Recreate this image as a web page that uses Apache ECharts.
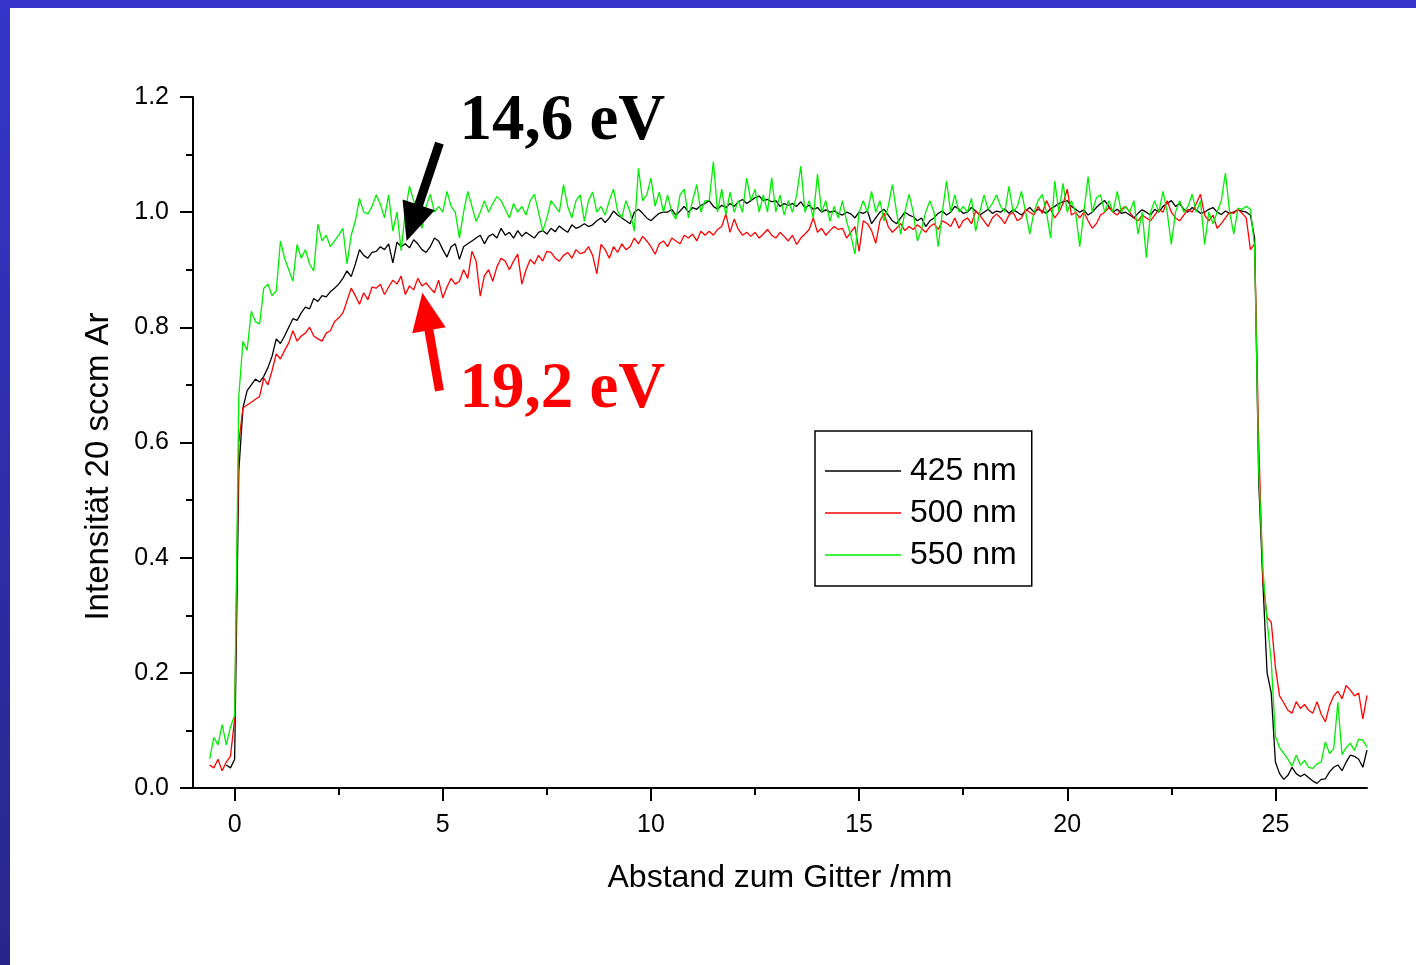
<!DOCTYPE html>
<html><head><meta charset="utf-8">
<script src="https://cdn.jsdelivr.net/npm/echarts@6/dist/echarts.min.js"></script>
<style>
html,body{margin:0;padding:0;width:1416px;height:965px;overflow:hidden;background:linear-gradient(to bottom,#3535cb,#27278a);}
#frame{position:absolute;left:10px;top:8px;width:1406px;height:957px;background:#fff;}
#chart{width:1406px;height:957px;}
</style></head><body><div id="frame"><div id="chart"></div></div>
<script>
// x positions (mm)
const xs=[-0.6,-0.5,-0.4,-0.3,-0.2,-0.1,0,0.1,0.2,0.3,
0.4,0.5,0.6,0.7,0.8,0.9,1,1.1,1.2,1.3,
1.4,1.5,1.6,1.7,1.8,1.9,2,2.1,2.2,2.3,
2.4,2.5,2.6,2.7,2.8,2.9,3,3.1,3.2,3.3,
3.4,3.5,3.6,3.7,3.8,3.9,4,4.1,4.2,4.3,
4.4,4.5,4.6,4.7,4.8,4.9,5,5.1,5.2,5.3,
5.4,5.5,5.6,5.7,5.8,5.9,6,6.1,6.2,6.3,
6.4,6.5,6.6,6.7,6.8,6.9,7,7.1,7.2,7.3,
7.4,7.5,7.6,7.7,7.8,7.9,8,8.1,8.2,8.3,
8.4,8.5,8.6,8.7,8.8,8.9,9,9.1,9.2,9.3,
9.4,9.5,9.6,9.7,9.8,9.9,10,10.1,10.2,10.3,
10.4,10.5,10.6,10.7,10.8,10.9,11,11.1,11.2,11.3,
11.4,11.5,11.6,11.7,11.8,11.9,12,12.1,12.2,12.3,
12.4,12.5,12.6,12.7,12.8,12.9,13,13.1,13.2,13.3,
13.4,13.5,13.6,13.7,13.8,13.9,14,14.1,14.2,14.3,
14.4,14.5,14.6,14.7,14.8,14.9,15,15.1,15.2,15.3,
15.4,15.5,15.6,15.7,15.8,15.9,16,16.1,16.2,16.3,
16.4,16.5,16.6,16.7,16.8,16.9,17,17.1,17.2,17.3,
17.4,17.5,17.6,17.7,17.8,17.9,18,18.1,18.2,18.3,
18.4,18.5,18.6,18.7,18.8,18.9,19,19.1,19.2,19.3,
19.4,19.5,19.6,19.7,19.8,19.9,20,20.1,20.2,20.3,
20.4,20.5,20.6,20.7,20.8,20.9,21,21.1,21.2,21.3,
21.4,21.5,21.6,21.7,21.8,21.9,22,22.1,22.2,22.3,
22.4,22.5,22.6,22.7,22.8,22.9,23,23.1,23.2,23.3,
23.4,23.5,23.6,23.7,23.8,23.9,24,24.1,24.2,24.3,
24.4,24.5,24.6,24.7,24.8,24.9,25,25.1,25.2,25.3,
25.4,25.5,25.6,25.7,25.8,25.9,26,26.1,26.2,26.3,
26.4,26.5,26.6,26.7,26.8,26.9,27,27.1,27.2];

const black425=[null,null,null,null,0.04,0.035,0.05,0.55,0.66,0.69,
0.70,0.71,0.705,0.715,0.73,0.75,0.78,0.772,0.785,0.80,
0.815,0.812,0.825,0.835,0.832,0.85,0.845,0.855,0.853,0.862,
0.868,0.875,0.885,0.898,0.888,0.91,0.935,0.925,0.92,0.93,
0.932,0.94,0.935,0.945,0.912,0.948,0.94,0.945,0.938,0.952,
0.945,0.935,0.93,0.94,0.955,0.95,0.935,0.922,0.94,0.945,
0.918,0.94,0.945,0.95,0.955,0.96,0.945,0.958,0.962,0.955,
0.972,0.96,0.965,0.955,0.968,0.958,0.965,0.96,0.955,0.965,
0.968,0.962,0.972,0.966,0.976,0.97,0.965,0.978,0.972,0.975,
0.98,0.975,0.978,0.985,0.99,0.982,0.99,1.002,0.995,0.99,
0.985,0.98,1.0,1.005,0.998,0.99,0.985,0.992,0.998,1.0,
1.0,1.005,0.995,1.002,1.01,1.0,1.008,1.005,1.012,1.015,
1.02,1.01,1.005,1.012,1.008,1.015,1.01,1.018,1.022,1.015,
1.02,1.025,1.028,1.02,1.022,1.018,1.02,1.01,1.015,1.012,
1.015,1.01,1.018,1.008,1.012,1.005,1.008,1.0,1.004,1.0,
1.002,0.998,0.995,1.0,0.997,0.99,1.0,0.998,1.002,0.98,
0.99,1.0,1.005,0.995,0.985,0.98,0.99,1.0,0.995,0.992,
0.985,0.99,0.975,0.985,0.99,0.998,1.002,0.995,1.0,1.01,
1.005,0.998,1.0,1.008,1.002,0.995,1.0,1.005,0.998,1.002,
1.0,1.006,0.998,1.004,1.0,0.995,1.002,1.008,1.0,1.005,
1.002,0.998,1.006,1.01,1.015,1.018,1.02,1.01,1.005,1.0,
1.004,0.995,1.0,1.008,1.015,1.02,1.01,1.0,1.005,0.998,
1.0,0.995,0.99,0.998,1.004,1.0,0.995,1.005,1.0,1.01,
1.015,1.02,1.01,1.015,1.005,1.0,1.008,1.004,0.998,1.0,
1.005,1.008,1.0,0.996,1.002,0.998,1.0,1.004,1.002,1.0,
0.995,0.955,0.53,0.355,0.2,0.165,0.045,0.025,0.015,0.022,
0.036,0.025,0.02,0.024,0.018,0.012,0.008,0.015,0.016,0.028,
0.036,0.04,0.03,0.045,0.057,0.055,0.05,0.036,0.066];

const red500=[0.04,0.035,0.05,0.03,0.045,0.055,0.12,0.6,0.66,0.665,
0.67,0.675,0.68,0.712,0.7,0.725,0.754,0.745,0.76,0.773,
0.794,0.776,0.785,0.79,0.8,0.785,0.78,0.776,0.79,0.794,
0.81,0.816,0.825,0.846,0.868,0.855,0.84,0.86,0.848,0.87,
0.868,0.875,0.857,0.87,0.882,0.875,0.889,0.857,0.872,0.865,
0.885,0.872,0.877,0.868,0.86,0.882,0.851,0.87,0.885,0.875,
0.88,0.9,0.885,0.932,0.915,0.854,0.89,0.9,0.88,0.905,
0.92,0.915,0.9,0.915,0.927,0.875,0.9,0.918,0.91,0.925,
0.915,0.932,0.93,0.92,0.915,0.925,0.93,0.92,0.935,0.928,
0.93,0.94,0.925,0.893,0.944,0.935,0.92,0.94,0.93,0.945,
0.935,0.94,0.955,0.945,0.958,0.95,0.94,0.927,0.945,0.95,
0.94,0.955,0.95,0.945,0.96,0.955,0.962,0.95,0.967,0.96,
0.967,0.96,0.97,0.975,0.997,0.965,0.988,0.97,0.96,0.965,
0.958,0.965,0.955,0.962,0.97,0.96,0.955,0.965,0.958,0.95,
0.96,0.944,0.955,0.962,0.97,0.99,0.965,0.972,0.96,0.968,
0.975,0.97,0.972,0.955,0.965,0.975,0.932,0.985,0.98,0.968,
0.946,0.985,0.998,0.975,0.965,0.972,0.98,0.968,0.975,0.97,
0.978,0.972,0.965,0.975,0.98,0.97,0.985,0.981,0.975,0.99,
0.972,0.985,0.99,0.98,1.002,0.995,0.985,0.975,0.99,0.997,
0.99,0.98,0.995,1.0,0.985,0.99,1.005,1.0,0.995,1.01,
0.998,1.02,1.005,0.99,1.0,1.015,1.04,0.995,1.0,0.99,
1.0,0.985,0.972,0.98,0.995,1.0,1.008,1.0,0.995,1.005,
1.01,1.0,0.99,0.985,0.995,0.99,0.985,0.995,1.005,1.0,
1.02,1.0,0.99,0.985,0.995,1.005,1.0,1.015,1.031,0.995,
0.985,0.995,0.972,0.98,0.99,1.0,0.998,1.005,0.998,0.99,
0.935,0.945,0.6,0.36,0.296,0.288,0.21,0.16,0.148,0.135,
0.13,0.15,0.138,0.145,0.135,0.13,0.15,0.128,0.115,0.143,
0.16,0.168,0.155,0.178,0.17,0.16,0.165,0.12,0.161];

const green550=[0.05,0.088,0.075,0.11,0.075,0.106,0.126,0.68,0.776,0.76,
0.828,0.81,0.806,0.868,0.875,0.855,0.863,0.95,0.92,0.9,
0.88,0.944,0.92,0.935,0.91,0.898,0.979,0.95,0.96,0.94,
0.95,0.96,0.972,0.91,0.96,0.985,1.024,1.0,0.997,1.01,
1.03,1.014,0.99,1.03,0.967,1.0,0.933,1.0,1.045,1.02,
1.0,0.972,1.01,1.031,1.0,1.01,1.0,1.036,1.01,1.0,
0.955,1.0,1.036,1.01,0.984,1.0,1.02,1.0,1.015,1.027,
1.02,1.005,0.99,1.015,1.0,1.01,0.995,1.02,1.031,1.0,
0.967,0.99,1.02,1.01,1.0,1.048,1.01,0.99,1.02,1.03,
0.984,1.02,1.035,1.0,1.01,0.995,1.02,1.04,1.002,0.99,
1.02,1.0,0.967,1.076,1.02,1.03,1.059,1.01,1.035,1.0,
1.03,1.0,0.988,1.03,1.04,0.99,1.02,1.048,1.0,1.02,
1.02,1.088,1.0,1.04,0.995,1.035,1.0,1.02,1.0,1.059,
1.02,1.04,1.0,1.03,1.0,1.06,1.0,1.03,0.995,1.02,
1.0,1.03,1.08,1.0,1.02,0.99,1.066,1.0,1.02,0.984,
1.01,0.99,1.02,0.984,0.96,0.927,1.0,1.02,1.0,1.036,
1.0,1.02,0.985,1.01,1.048,1.0,0.962,1.0,1.031,1.0,
0.95,0.97,1.0,1.02,1.0,0.94,1.0,1.054,1.0,1.03,
1.0,1.01,1.0,1.024,0.967,1.0,1.03,1.005,1.015,1.03,
1.01,1.0,1.045,1.0,1.01,1.036,1.0,0.962,1.0,1.02,
1.031,1.0,0.955,1.054,1.0,1.05,1.0,1.02,1.0,0.94,
1.0,1.062,1.0,1.025,1.03,1.0,1.02,1.0,1.036,1.0,
1.01,1.0,1.02,0.962,1.0,0.921,1.0,1.02,1.0,1.036,
1.0,0.944,1.0,1.02,1.0,1.01,1.031,1.0,1.02,0.944,
1.0,0.98,1.0,1.02,1.068,1.0,0.962,1.007,1.005,1.01,
1.005,0.94,0.55,0.38,0.29,0.22,0.09,0.07,0.06,0.05,
0.038,0.057,0.04,0.048,0.036,0.034,0.042,0.045,0.08,0.06,
0.068,0.149,0.058,0.07,0.078,0.065,0.085,0.083,0.071];

const seriesNames=['425 nm','500 nm','550 nm'];
const seriesColors=['#000000','#ff0000','#00ee00'];
const xMajorTicks=[0,5,10,15,20,25];
const xMinorTicks=[2.5,7.5,12.5,17.5,22.5];
const xAxisTitle='Abstand zum Gitter /mm';
const yAxisTitle='Intensität 20 sccm Ar';
// annotations in data coordinates
const labels=[{text:'14,6 eV',color:'#000000',at:[5.4,1.156]},{text:'19,2 eV',color:'#ff0000',at:[5.4,0.69]}];
const arrows=[{color:'#000000',tail:[4.92,1.12],tip:[4.13,0.95]},{color:'#ff0000',tail:[4.92,0.69],tip:[4.51,0.86]}];

function pairs(ys){const out=[];for(let i=0;i<xs.length;i++){out.push([xs[i],ys[i]]);}return out;}
const ySets=[black425,red500,green550];

const chart=echarts.init(document.getElementById('chart'),null,{renderer:'canvas'});
const font='"Liberation Sans", Arial, sans-serif';
const option={
  animation:false,
  backgroundColor:'#ffffff',
  textStyle:{fontFamily:font,color:'#000'},
  grid:{left:183,top:89,width:1174,height:691,containLabel:false},
  xAxis:[{
    type:'value',min:-1,max:27.2,position:'bottom',
    name:xAxisTitle,nameLocation:'middle',nameGap:74,
    nameTextStyle:{fontSize:32,color:'#000',fontFamily:font},
    axisLine:{show:true,onZero:false,lineStyle:{color:'#000',width:2}},
    axisTick:{show:true,length:13,inside:false,customValues:xMajorTicks,lineStyle:{color:'#000',width:2}},
    axisLabel:{show:true,customValues:xMajorTicks,fontSize:25,color:'#000',margin:25,fontFamily:font},
    splitLine:{show:false}
  },{
    type:'value',min:-1,max:27.2,position:'bottom',
    axisLine:{show:false},
    axisTick:{show:true,length:7,customValues:xMinorTicks,lineStyle:{color:'#000',width:2}},
    axisLabel:{show:false},
    splitLine:{show:false}
  }],
  yAxis:{
    type:'value',min:0,max:1.2,interval:0.2,
    name:yAxisTitle,nameLocation:'middle',nameGap:78,nameRotate:90,
    nameTextStyle:{fontSize:33,color:'#000',fontFamily:font,padding:[0,48,0,0]},
    axisLine:{show:true,onZero:false,lineStyle:{color:'#000',width:2}},
    axisTick:{show:true,length:13,lineStyle:{color:'#000',width:2}},
    minorTick:{show:true,splitNumber:2,length:7,lineStyle:{color:'#000',width:2}},
    axisLabel:{fontSize:25,color:'#000',margin:24,fontFamily:font,formatter:v=>v.toFixed(1)},
    splitLine:{show:false}
  },
  legend:{
    show:true,orient:'vertical',left:805,top:423,
    data:seriesNames.map((n,i)=>({name:n,icon:'rect',itemStyle:{color:seriesColors[i]}})),
    itemWidth:76,itemHeight:1.3,itemGap:10,
    padding:[24,15,15,10],
    borderColor:'#000',borderWidth:1.5,backgroundColor:'#fff',
    textStyle:{fontSize:32,color:'#000',fontFamily:font,lineHeight:30,padding:[0,0,0,4]}
  },
  series:seriesNames.map((n,i)=>({
    name:n,type:'line',xAxisIndex:0,yAxisIndex:0,
    data:pairs(ySets[i]),symbol:'none',showSymbol:false,
    lineStyle:{color:seriesColors[i],width:1.3},
    itemStyle:{color:seriesColors[i]},
    connectNulls:false
  }))
};
chart.setOption(option);

function toPx(p){return chart.convertToPixel({xAxisIndex:0,yAxisIndex:0},p);}
const g=[];
labels.forEach(l=>{
  const p=toPx(l.at);
  g.push({type:'text',x:p[0],y:p[1],z:100,style:{text:l.text,fill:l.color,font:'bold 65px "Liberation Serif", "Times New Roman", serif',textAlign:'left',textVerticalAlign:'middle',verticalAlign:'middle'}});
});
arrows.forEach(a=>{
  const t=toPx(a.tail),h=toPx(a.tip);
  const dx=h[0]-t[0],dy=h[1]-t[1],L=Math.hypot(dx,dy),ux=dx/L,uy=dy/L;
  const headLen=38,half=17;
  const bx=h[0]-ux*headLen,by=h[1]-uy*headLen;
  const px=-uy,py=ux;
  g.push({type:'line',z:100,shape:{x1:t[0],y1:t[1],x2:bx+ux*2,y2:by+uy*2},style:{stroke:a.color,lineWidth:9,lineCap:'butt'}});
  g.push({type:'polygon',z:100,shape:{points:[[h[0],h[1]],[bx+px*half,by+py*half],[bx-px*half,by-py*half]]},style:{fill:a.color}});
});
chart.setOption({graphic:g});
</script></body></html>
